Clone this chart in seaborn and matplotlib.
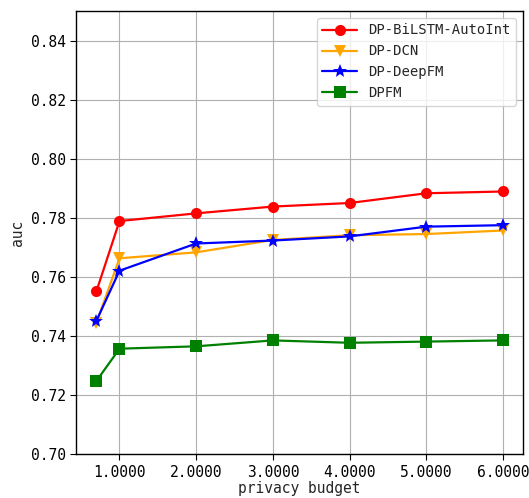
import matplotlib
matplotlib.use('Agg')
import matplotlib.pyplot as plt
import seaborn as sns
import pandas as pd
from matplotlib.ticker import FormatStrFormatter

# 数据
budgets = [0.7, 1.0, 2.0, 3.0, 4.0, 5.0, 6.0]
auc_bilstm = [0.7552, 0.7789, 0.7815, 0.7838, 0.7850, 0.7883, 0.7889]
auc_dcn = [0.7445, 0.7663, 0.7683, 0.7725, 0.7741, 0.7745, 0.7757]
auc_deepfm = [0.7452, 0.7621, 0.7713, 0.7723, 0.7737, 0.7770, 0.7775]
auc_dpfm = [0.7248, 0.7357, 0.7365, 0.7385, 0.7377, 0.7381, 0.7385]

models = ['DP-BiLSTM-AutoInt', 'DP-DCN', 'DP-DeepFM', 'DPFM']
series = [auc_bilstm, auc_dcn, auc_deepfm, auc_dpfm]
colors = ['red', 'orange', 'blue', 'green']
markers = ['o', 'v', '*', 's']

df = pd.DataFrame({
    'privacy budget': budgets * len(models),
    'auc': [v for s in series for v in s],
    'model': [m for m in models for _ in budgets],
})

sns.set_style('whitegrid', {
    'axes.edgecolor': 'black',
    'grid.color': '#b0b0b0',
    'xtick.bottom': True,
    'ytick.left': True,
    'xtick.color': 'black',
    'ytick.color': 'black',
})
plt.rcParams['font.family'] = ['DejaVu Sans Mono', 'DejaVu Sans']

fig = plt.figure(figsize=(5.29, 4.98), dpi=100)
ax = fig.add_axes([0.144, 0.088, 0.845, 0.89])

sns.lineplot(data=df, x='privacy budget', y='auc', hue='model', style='model',
             palette=dict(zip(models, colors)), markers=dict(zip(models, markers)),
             dashes=False, markersize=8, linewidth=1.6, markeredgewidth=0,
             ax=ax)

# 星形标记放大一点
for ln in ax.lines:
    if ln.get_marker() == '*':
        ln.set_markersize(10)

ax.set_ylim(0.70, 0.85)
ax.set_yticks([0.70, 0.72, 0.74, 0.76, 0.78, 0.80, 0.82, 0.84])
ax.set_xticks([1, 2, 3, 4, 5, 6])
ax.xaxis.set_major_formatter(FormatStrFormatter('%.4f'))
ax.yaxis.set_major_formatter(FormatStrFormatter('%.2f'))
ax.tick_params(labelsize=10.5, length=4, width=0.8)
ax.set_xlabel('privacy budget', fontsize=10.5, labelpad=1)
ax.set_ylabel('auc', fontsize=10.5)
for s in ax.spines.values():
    s.set_linewidth(1.0)

leg = ax.legend(loc='upper right', fontsize=10, frameon=True, handlelength=2.5)
for h in leg.legend_handles:
    if h.get_marker() == '*':
        h.set_markersize(10)

plt.savefig('out.png', dpi=100)
plt.close()
